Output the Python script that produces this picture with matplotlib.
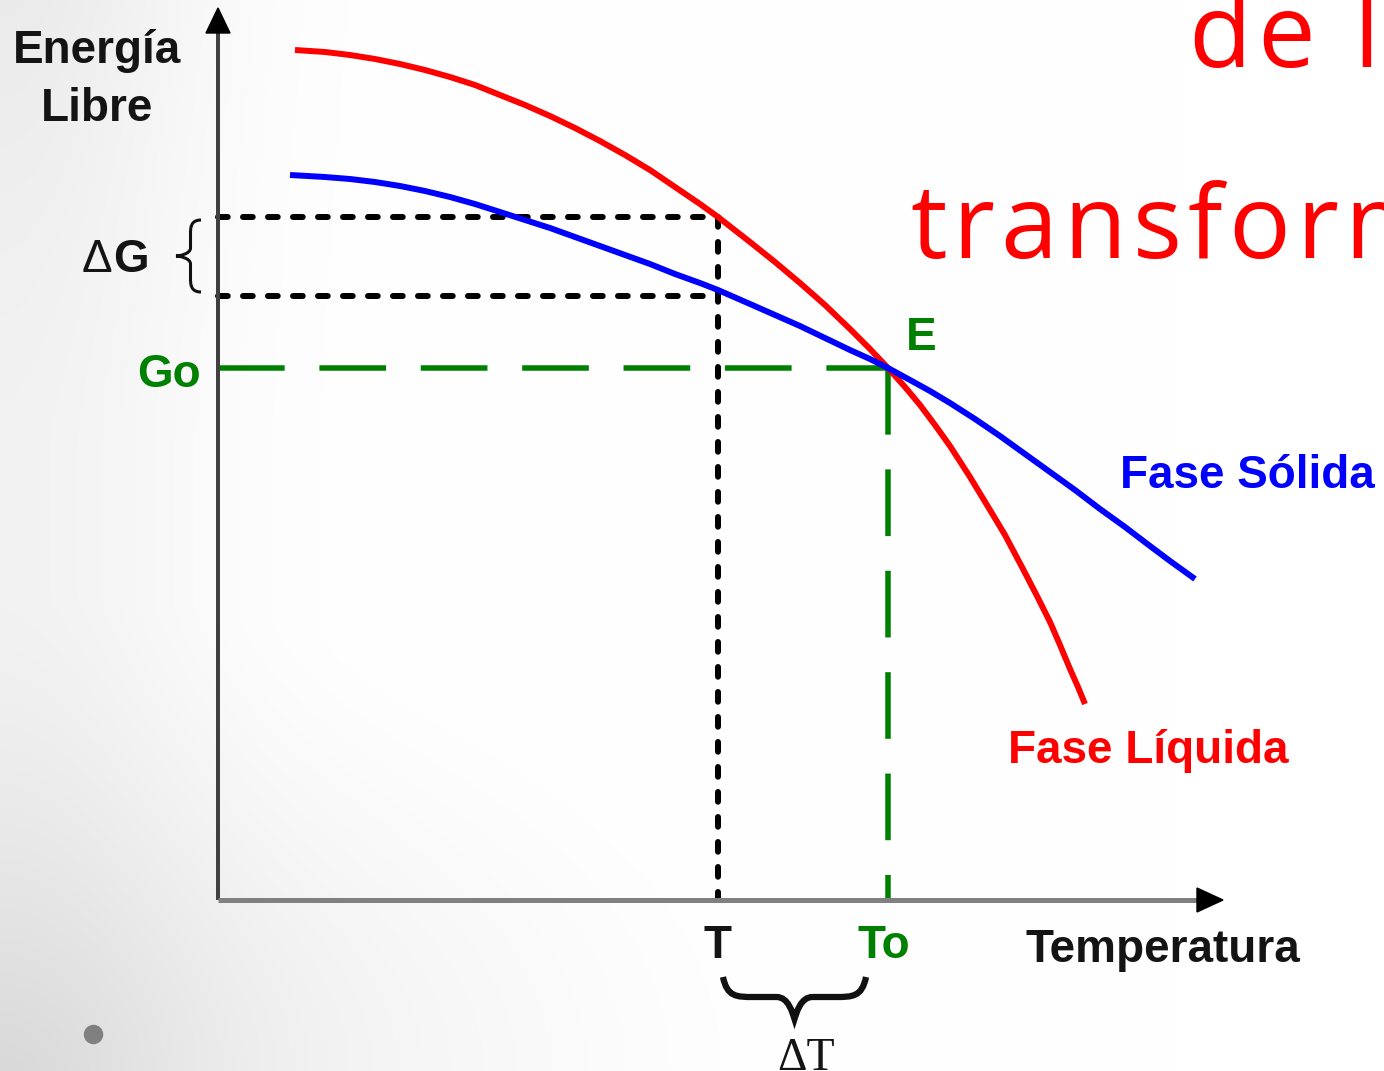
import numpy as np
import matplotlib
matplotlib.use("Agg")
import matplotlib.pyplot as plt
from matplotlib.path import Path
from matplotlib.patches import PathPatch, Polygon

plt.rcParams['lines.scale_dashes'] = False

# ---------------- data (Temperature, Free energy; arbitrary units) ----------------
liq_T = [77, 107, 132, 157, 182, 207, 232, 257, 282, 307, 332, 357, 382, 407, 432,
         457, 482, 500, 532, 557, 582, 607, 632, 652, 670, 687, 702, 717, 732, 752,
         772, 787, 805, 819, 832, 842, 852, 860, 867]
liq_G = [850, 848, 845, 841, 836, 830, 823, 815, 805, 795, 784, 772, 759, 745, 730,
         713, 696, 683, 658, 638, 617, 595, 571, 551, 532, 513, 495, 475, 454, 423,
         390, 365, 331, 304, 278, 255, 231, 213, 196]
sol_T = [72, 107, 132, 157, 182, 207, 232, 257, 282, 307, 332, 357, 382, 407, 432,
         457, 482, 500, 532, 557, 582, 607, 632, 652, 670, 692, 712, 732, 757, 782,
         807, 832, 857, 882, 907, 932, 952, 977]
sol_G = [725, 723, 721, 718, 714, 709, 703, 696, 688, 680, 672, 663, 654, 645, 636,
         626, 617, 610, 596, 585, 574, 562, 550, 541, 532, 520, 509, 497, 481, 464,
         446, 428, 410, 391, 373, 354, 339, 321]
T_under = 500      # undercooling temperature T
T_o = 670          # equilibrium temperature To
G_o = 532          # energy at E
G_liq_T = 683      # liquid free energy at T
G_sol_T = 604      # solid free energy at T

# labels
y_label = ["Energía", "Libre"]
x_label = "Temperatura"
label_solid = "Fase Sólida"
label_liquid = "Fase Líquida"
title_lines = ["de l", "transform"]

# ---------------- figure ----------------
W, H = 1384, 1071
fig = plt.figure(figsize=(W / 100, H / 100), dpi=100)
ax = fig.add_axes([0, 0, 1, 1])
X0, Y0 = 218, 900   # pixel position of the axes origin
xlim = (-X0, W - X0)
ylim = (Y0 - H, Y0)
ax.set_xlim(*xlim)
ax.set_ylim(*ylim)
ax.axis('off')


def P(px, py):
    return (px - X0, Y0 - py)


# background gradient
yy, xx = np.mgrid[0:H, 0:W].astype(float)
d_bl = np.hypot(xx, (H - yy) / 0.6)
g1 = 0.10 * np.clip(1 - d_bl / 800, 0, None) ** 1.4
g2 = (0.05 + 0.03 * np.clip(1 - yy / 450, 0, None) ** 1.5) * np.exp(-(xx / 200.0) ** 2)
v = np.clip(1 - g1 - g2, 0, 1)
ax.imshow(np.dstack([v, v, v]), extent=(xlim[0], xlim[1], ylim[0], ylim[1]),
          origin='upper', aspect='auto', zorder=0, interpolation='bilinear')

# bullet
ax.plot(*[[c] for c in P(93, 1034)], 'o', color='#808080', markersize=13, zorder=2)

green = '#008000'

# dotted guide lines (black)
dot_style = dict(color='black', lw=6 * 0.72, linestyle=(0, (7, 11)), zorder=3,
                 dash_capstyle='round')
ax.plot([0, T_under], [G_liq_T, G_liq_T], **dot_style)
ax.plot([0, T_under], [G_sol_T, G_sol_T], **dot_style)
ax.plot([T_under, T_under], [G_liq_T, 0], **dot_style)

# green dashed
gd_style = dict(color=green, lw=5.5 * 0.72, linestyle=(0, (48, 25)), zorder=3,
                dash_capstyle='butt')
ax.plot([0, T_o], [G_o, G_o], **gd_style)
ax.plot([T_o, T_o], [G_o, 0], **gd_style)

# curves
ax.plot(liq_T, liq_G, color='#ff0000', lw=4.3, zorder=4, solid_capstyle='butt',
        solid_joinstyle='round')
ax.plot(sol_T, sol_G, color='#0000ff', lw=4.3, zorder=5, solid_capstyle='butt',
        solid_joinstyle='round')

# axes lines with arrows
ax.plot([0, 0], [0, P(0, 30)[1]], color='#404040', lw=4 * 0.72, zorder=6,
        solid_capstyle='butt')
ax.plot([0, P(1198, 0)[0]], [0, 0], color='#808080', lw=5 * 0.72, zorder=6,
        solid_capstyle='butt')
ax.add_patch(Polygon([P(218, 8), P(206, 33), P(230, 33)], closed=True,
                     color='black', zorder=7))
ax.add_patch(Polygon([P(1223, 900), P(1197, 888), P(1197, 912)], closed=True,
                     color='black', zorder=7))


# braces
def brace_v(x_right, y_top, y_bot, x_tip):
    ym = (y_top + y_bot) / 2
    xa = (x_right + x_tip) / 2 + 2
    verts = [P(x_right, y_top),
             P(xa, y_top), P(xa, y_top + 8), P(xa, y_top + 14),
             P(xa, ym - 8),
             P(xa, ym - 2), P(x_tip + 3, ym), P(x_tip, ym),
             P(x_tip + 3, ym), P(xa, ym + 2), P(xa, ym + 8),
             P(xa, y_bot - 14),
             P(xa, y_bot - 8), P(xa, y_bot), P(x_right, y_bot)]
    codes = [Path.MOVETO, Path.CURVE4, Path.CURVE4, Path.CURVE4, Path.LINETO,
             Path.CURVE4, Path.CURVE4, Path.CURVE4,
             Path.CURVE4, Path.CURVE4, Path.CURVE4, Path.LINETO,
             Path.CURVE4, Path.CURVE4, Path.CURVE4]
    return Path(verts, codes)


def brace_h(x_left, x_right, y_top, y_tip):
    xm = (x_left + x_right) / 2
    ya = y_top + 20
    verts = [P(x_left, y_top),
             P(x_left + 4, ya), P(x_left + 14, ya), P(x_left + 30, ya),
             P(xm - 18, ya),
             P(xm - 6, ya), P(xm - 2, y_tip - 6), P(xm, y_tip),
             P(xm + 2, y_tip - 6), P(xm + 6, ya), P(xm + 18, ya),
             P(x_right - 30, ya),
             P(x_right - 14, ya), P(x_right - 4, ya), P(x_right, y_top)]
    codes = [Path.MOVETO, Path.CURVE4, Path.CURVE4, Path.CURVE4, Path.LINETO,
             Path.CURVE4, Path.CURVE4, Path.CURVE4,
             Path.CURVE4, Path.CURVE4, Path.CURVE4, Path.LINETO,
             Path.CURVE4, Path.CURVE4, Path.CURVE4]
    return Path(verts, codes)


ax.add_patch(PathPatch(brace_v(201, 220, 292, 176), fill=False, lw=2.2,
                       edgecolor='#111111', zorder=6))
ax.add_patch(PathPatch(brace_h(723, 866, 977, 1019), fill=False, lw=4.5,
                       edgecolor='#111111', zorder=6))

# ---------------- texts ----------------
fs = 33
sans = ['Liberation Sans', 'DejaVu Sans']
dark = '#141414'
ax.text(*P(97, 63), y_label[0], fontsize=fs, fontweight='bold', family=sans,
        ha='center', va='baseline', color=dark, zorder=8)
ax.text(*P(97, 121), y_label[1], fontsize=fs, fontweight='bold', family=sans,
        ha='center', va='baseline', color=dark, zorder=8)
ax.text(*P(112, 272), "Δ", fontsize=fs, family=sans, ha='right', va='baseline',
        color=dark, zorder=8)
ax.text(*P(113, 272), "G", fontsize=fs, fontweight='bold', family=sans,
        ha='left', va='baseline', color=dark, zorder=8)
ax.text(*P(201, 387), "Go", fontsize=fs, fontweight='bold', family=sans,
        ha='right', va='baseline', color=green, zorder=8)
ax.text(*P(906, 350), "E", fontsize=fs, fontweight='bold', family=sans,
        ha='left', va='baseline', color=green, zorder=8)
ax.text(*P(1120, 488), label_solid, fontsize=fs, fontweight='bold', family=sans,
        ha='left', va='baseline', color='#0000ff', zorder=8)
ax.text(*P(1008, 763), label_liquid, fontsize=fs, fontweight='bold', family=sans,
        ha='left', va='baseline', color='#ff0000', zorder=8)
ax.text(T_under, P(0, 958)[1], "T", fontsize=fs, fontweight='bold', family=sans,
        ha='center', va='baseline', color=dark, zorder=8)
ax.text(*P(857, 958), "To", fontsize=fs, fontweight='bold', family=sans,
        ha='left', va='baseline', color=green, zorder=8)
ax.text(*P(1025, 962), x_label, fontsize=fs, fontweight='bold', family=sans,
        ha='left', va='baseline', color=dark, zorder=8)
ax.text(*P(806, 1070), "ΔT", fontsize=fs, family=['Liberation Serif', 'DejaVu Serif'],
        ha='center', va='baseline', color=dark, zorder=8)

# red title fragments with letter spacing
renderer = fig.canvas.get_renderer()
tf = ['Open Sans', 'DejaVu Sans']


def spaced_text(s, px, py, spacing_px, size):
    def width(sub):
        if not sub:
            return 0.0
        t = fig.text(0, 0, sub, fontsize=size, family=tf)
        w = t.get_window_extent(renderer).width
        t.remove()
        return w
    for i, ch in enumerate(s):
        if ch == ' ':
            continue
        off = width(s[:i + 1]) - width(ch) + i * spacing_px
        ax.text(*P(px + off, py), ch, fontsize=size, family=tf, ha='left',
                va='baseline', color='#ff0000', zorder=8)


spaced_text(title_lines[0], 1188, 67, 6, 74)
spaced_text(title_lines[1], 910, 258, 6, 74)

fig.savefig('out.png', dpi=100)
